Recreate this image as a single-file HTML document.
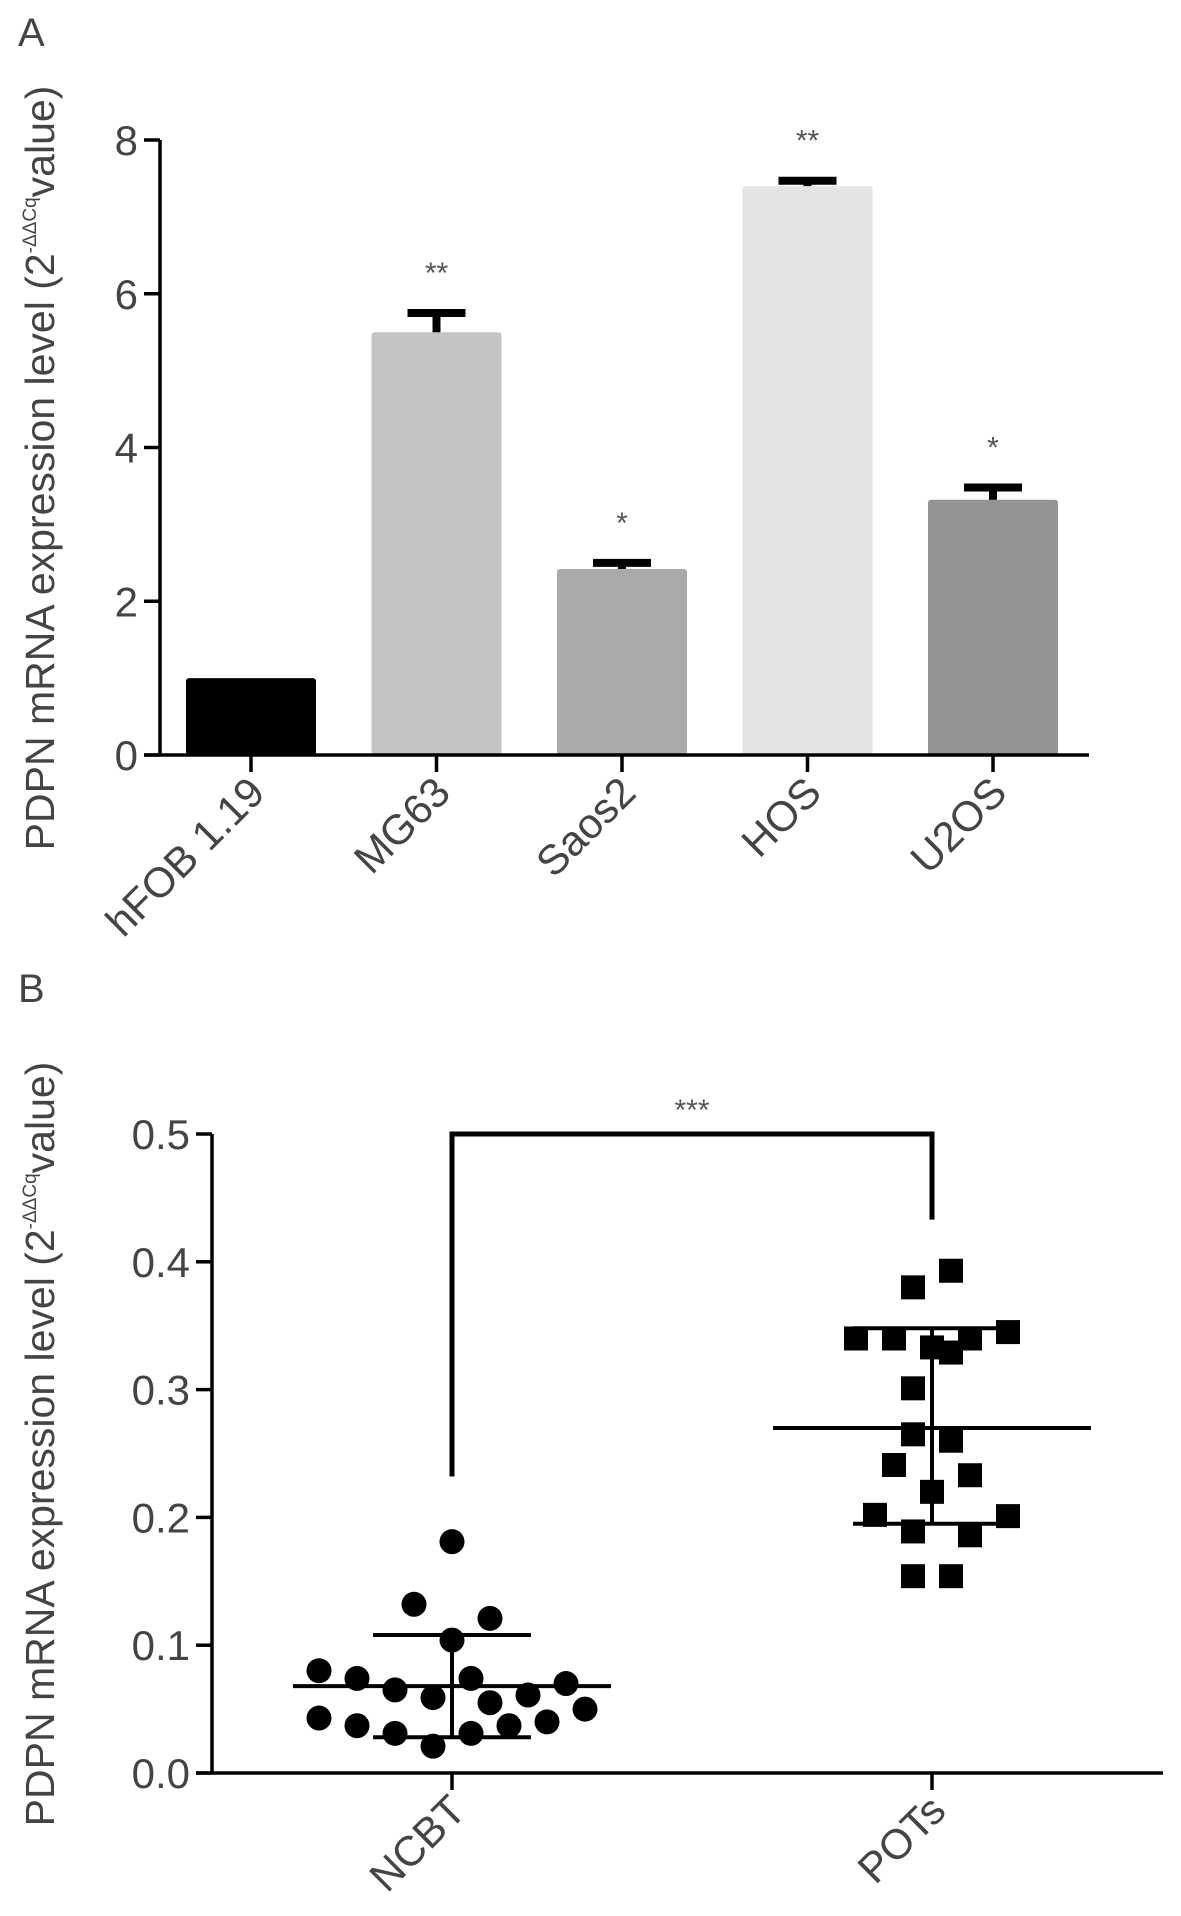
<!DOCTYPE html>
<html><head><meta charset="utf-8"><style>
html,body{margin:0;padding:0;background:#fff;}
svg{display:block;font-family:"Liberation Sans",sans-serif;}
</style></head><body>
<svg id="fig" width="1181" height="1916" viewBox="0 0 1181 1916" xmlns="http://www.w3.org/2000/svg">
<text x="18" y="46" font-size="40" fill="#444">A</text>
<text x="18" y="1002" font-size="40" fill="#444">B</text>
<g id="chartA"></g>
<g id="chartB"></g>
</svg>
<script>
// Chart A data
const catsA = ["hFOB 1.19","MG63","Saos2","HOS","U2OS"];
const valsA = [1.0, 5.5, 2.42, 7.4, 3.32];
const errA = [0, 0.25, 0.08, 0.07, 0.16];
const sigA = ["", "**", "*", "**", "*"];
const ticksA = [0,2,4,6,8];
const colorsA = ["#000000","#c4c4c4","#aaaaaa","#e4e4e4","#939393"];
// Chart B data
const catsB = ["NCBT","POTs"];
const ncbtVals = [0.181,0.132,0.121,0.104,0.080,0.074,0.074,0.070,0.065,0.059,0.061,0.055,0.050,0.043,0.037,0.040,0.037,0.031,0.031,0.021];
const ncbtSlot = [0,-2,2,0,-7,-5,1,6,-3,-1,4,2,7,-7,-5,5,3,-3,1,-1];
const potsVals = [0.393,0.380,0.340,0.340,0.340,0.345,0.333,0.329,0.301,0.265,0.260,0.241,0.233,0.220,0.202,0.201,0.189,0.186,0.154,0.154];
const potsSlot = [1,-1,-4,-2,2,4,0,1,-1,-1,1,-2,2,0,-3,4,-1,2,-1,1];
const meanB = [0.068, 0.270];
const sdLowB = [0.028, 0.195];
const sdHighB = [0.108, 0.348];
const ticksB = [0.0,0.1,0.2,0.3,0.4,0.5];
const sigB = "***";

const NS="http://www.w3.org/2000/svg";
function mk(parent,tag,attrs,txt){const e=document.createElementNS(NS,tag);for(const k in attrs)e.setAttribute(k,attrs[k]);if(txt!==undefined)e.textContent=txt;parent.appendChild(e);return e;}

// ---------- Chart A ----------
(function(){
const g=document.getElementById('chartA');
const x0=160,yBase=755,yTop=140,vmax=8;
const y=v=>yBase-(yBase-yTop)*v/vmax;
const cx=i=>251+i*185.5;
const bw=130;
catsA.forEach((c,i)=>{
  const r=mk(g,'rect',{x:cx(i)-bw/2,y:y(valsA[i]),width:bw,height:yBase-y(valsA[i]),rx:3,fill:colorsA[i]});
  
  
  if(errA[i]>0){
    const e=mk(g,'path',{d:`M${cx(i)} ${y(valsA[i])} V${y(valsA[i]+errA[i])} M${cx(i)-29} ${y(valsA[i]+errA[i])} H${cx(i)+29}`,stroke:'#000','stroke-width':8,fill:'none'});
    
    
  }
  if(sigA[i]){
    const s=mk(g,'text',{x:cx(i),y:y(valsA[i]+errA[i])-30,'text-anchor':'middle','font-size':30,fill:'#555'},sigA[i]);
    
    
  }
  const t=mk(g,'line',{x1:cx(i),x2:cx(i),y1:yBase,y2:yBase+17,stroke:'#000','stroke-width':3.5});
  
  
  const l=mk(g,'text',{x:0,y:0,'text-anchor':'end','font-size':42,fill:'#444',transform:`translate(${cx(i)+16},${yBase+40}) rotate(-45)`},c);
  
  
});
const ax=mk(g,'path',{d:`M${x0} ${yTop} V${yBase} M${x0-16} ${yBase} H1089`,stroke:'#000','stroke-width':3.5,fill:'none'});


ticksA.forEach(v=>{
  const t=mk(g,'line',{x1:x0-16,x2:x0,y1:y(v),y2:y(v),stroke:'#000','stroke-width':3.5});
  
  
  const l=mk(g,'text',{x:x0-22,y:y(v)+15,'text-anchor':'end','font-size':42,fill:'#444'},String(v));
  
  
});
const tt=mk(g,'text',{x:0,y:0,'text-anchor':'middle','font-size':41,fill:'#444',transform:'translate(54,468) rotate(-90)'});


mk(tt,'tspan',{},'PDPN mRNA expression level (2');
mk(tt,'tspan',{'font-size':19,dy:-18},'-ΔΔCq');
mk(tt,'tspan',{dy:18},'value)');
})();

// ---------- Chart B ----------
(function(){
const g=document.getElementById('chartB');
const x0=212,yBase=1773,yTop=1134,vmax=0.5;
const y=v=>yBase-(yBase-yTop)*v/vmax;
const cx=i=>452+i*480;
const slotW=19;
const br=mk(g,'path',{d:`M${cx(0)} ${y(0.232)} V${y(0.5)} H${cx(1)} V${y(0.433)}`,stroke:'#000','stroke-width':5,fill:'none'});


const st=mk(g,'text',{x:(cx(0)+cx(1))/2,y:y(0.5)-14,'text-anchor':'middle','font-size':30,fill:'#555'},sigB);


ncbtVals.forEach((v,k)=>{
  const c=mk(g,'circle',{cx:cx(0)+ncbtSlot[k]*slotW,cy:y(v),r:12.5,fill:'#000'});
  
  
});
potsVals.forEach((v,k)=>{
  const c=mk(g,'rect',{x:cx(1)+potsSlot[k]*slotW-12,y:y(v)-12,width:24,height:24,fill:'#000'});
  
  
});
catsB.forEach((c,i)=>{
  const m=mk(g,'path',{d:`M${cx(i)-159} ${y(meanB[i])} H${cx(i)+159} M${cx(i)} ${y(sdLowB[i])} V${y(sdHighB[i])} M${cx(i)-79} ${y(sdLowB[i])} H${cx(i)+79} M${cx(i)-79} ${y(sdHighB[i])} H${cx(i)+79}`,stroke:'#000','stroke-width':4,fill:'none'});
  
  
  const t=mk(g,'line',{x1:cx(i),x2:cx(i),y1:yBase,y2:yBase+17,stroke:'#000','stroke-width':3.5});
  
  
  const l=mk(g,'text',{x:0,y:0,'text-anchor':'end','font-size':42,fill:'#444',transform:`translate(${cx(i)+16},${yBase+40}) rotate(-45)`},c);
  
  
});
const ax=mk(g,'path',{d:`M${x0} ${yTop} V${yBase} M${x0-16} ${yBase} H1163`,stroke:'#000','stroke-width':3.5,fill:'none'});


ticksB.forEach(v=>{
  const t=mk(g,'line',{x1:x0-16,x2:x0,y1:y(v),y2:y(v),stroke:'#000','stroke-width':3.5});
  
  
  const l=mk(g,'text',{x:x0-22,y:y(v)+15,'text-anchor':'end','font-size':42,fill:'#444'},v.toFixed(1));
  
  
});
const tt=mk(g,'text',{x:0,y:0,'text-anchor':'middle','font-size':41,fill:'#444',transform:'translate(54,1444) rotate(-90)'});


mk(tt,'tspan',{},'PDPN mRNA expression level (2');
mk(tt,'tspan',{'font-size':19,dy:-18},'-ΔΔCq');
mk(tt,'tspan',{dy:18},'value)');
})();
</script>
</body></html>
